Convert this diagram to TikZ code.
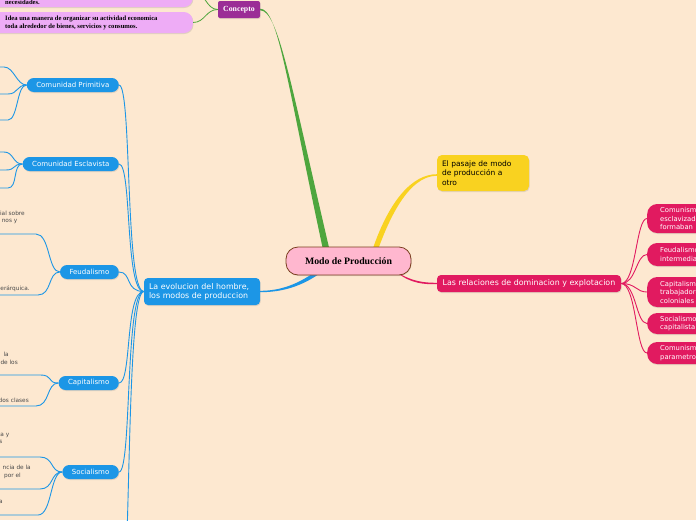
\documentclass[tikz,border=0pt]{standalone}
\usepackage{fontspec}
\newfontfamily\dv{DejaVu Sans}
\newfontfamily\tms{Liberation Serif}
\usetikzlibrary{shadows,calc}
\pgfdeclarelayer{bgl}
\pgfdeclarelayer{lines}
\pgfsetlayers{bgl,lines,main}
\definecolor{cbg}{RGB}{253,232,208}
\definecolor{cblue}{RGB}{28,150,230}
\definecolor{cred}{RGB}{225,26,96}
\definecolor{cyel}{RGB}{249,210,32}
\definecolor{cgreen}{RGB}{78,166,62}
\definecolor{cpurp}{RGB}{155,45,150}
\definecolor{cviol}{RGB}{238,172,246}
\definecolor{cpink}{RGB}{255,183,207}
\definecolor{cbrown}{RGB}{122,62,30}
\definecolor{cgray}{RGB}{75,75,75}
\tikzset{
 shad/.style={drop shadow={opacity=0.22,shadow xshift=0.6pt,shadow yshift=-1pt}},
 subnode/.style={shad,fill=cblue,text=white,rounded corners=7pt,minimum height=14pt,inner ysep=0pt,inner xsep=9.5pt,anchor=east,font=\dv\fontsize{7}{8}\selectfont},
 rnode/.style={shad,fill=cred,text=white,rounded corners=10pt,anchor=west,text width=100pt,inner xsep=13pt,inner ysep=0pt,align=left,font=\dv\fontsize{6.8}{8.5}\selectfont},
 violbox/.style={shad,fill=cviol,rounded corners=9pt,anchor=east,minimum width=240pt,inner sep=0pt},
 violtext/.style={anchor=west,inner sep=0pt,align=left,font=\tms\bfseries\fontsize{6.6}{8}\selectfont},
 lefttext/.style={anchor=east,inner sep=0pt,text=cgray,font=\dv\fontsize{5.8}{6.5}\selectfont},
 bl/.style={draw=cblue,line width=0.9pt},
 rl/.style={draw=cred,line width=0.9pt},
 gl/.style={draw=cgreen,line width=0.8pt},
}
\begin{document}
\begin{tikzpicture}[x=1pt,y=-1pt]
\useasboundingbox (0,0) rectangle (696,520);
\begin{pgfonlayer}{bgl}
\fill[cbg] (0,0) rectangle (696,520);
\end{pgfonlayer}

% central
\node[shad,fill=cpink,draw=cbrown,line width=0.8pt,rounded corners=12pt,minimum width=125pt,minimum height=28pt,inner sep=0pt,font=\tms\bfseries\fontsize{9.8}{11}\selectfont] (cen) at (348.5,261) {Modo de Producción};

% concepto branch
\node[shad,fill=cpurp,text=white,rounded corners=2pt,minimum width=42pt,minimum height=17pt,inner sep=0pt,font=\tms\bfseries\fontsize{7.8}{9}\selectfont] (con) at (239,9.5) {Concepto};
\node[violbox,minimum height=32pt] (v1) at (193,-9) {};
\node[violtext] (v1t) at (5,2) {necesidades.};
\node[violbox,minimum height=21pt] (v2) at (193,22.5) {};
\node[violtext] (v2t) at (5,22.5) {Idea una manera de organizar su actividad economica\\toda alrededor de bienes, servicios y consumos.};

% yellow
\node[shad,fill=cyel,rounded corners=5pt,minimum height=36pt,text width=82pt,inner xsep=5pt,inner ysep=0pt,align=left,font=\dv\fontsize{7.5}{9.8}\selectfont] (yel) at (483,173) {El pasaje de modo\\de producción a\\otro};

% red
\node[shad,fill=cred,text=white,rounded corners=4pt,minimum width=184pt,minimum height=17pt,inner sep=0pt,font=\dv\fontsize{7.9}{9.5}\selectfont] (rel) at (529,283.5) {Las relaciones de dominacion y explotacion};
\node[rnode,minimum height=29pt] (r1) at (647,218.5) {Comunismo\\esclavizados\\formaban};
\node[rnode,minimum height=23pt] (r2) at (647,254.5) {Feudalismo\\intermedia};
\node[rnode,minimum height=30pt] (r3) at (647,292) {Capitalismo\\trabajadores\\coloniales};
\node[rnode,minimum height=21pt] (r4) at (647,323.5) {Socialismo\\capitalista};
\node[rnode,minimum height=22pt] (r5) at (647,353) {Comunismo\\parametro};

% blue
\node[shad,fill=cblue,text=white,rounded corners=4pt,minimum height=27pt,text width=106pt,inner xsep=5pt,inner ysep=0pt,align=left,font=\dv\fontsize{7.9}{9.3}\selectfont] (evol) at (202,291.5) {La evolucion del hombre,\\los modos de produccion};
\node[subnode] (prim) at (119,85) {Comunidad Primitiva};
\node[subnode] (escl) at (119,164) {Comunidad Esclavista};
\node[subnode] (feud) at (119,272) {Feudalismo};
\node[subnode] (cap) at (119,383) {Capitalismo};
\node[subnode] (soc) at (119,472) {Socialismo};
\coordinate (nxt) at (119,620);

% left fragments
\node[lefttext] (t1) at (25,213) {ial sobre};
\node[lefttext] (t2) at (17.5,221) {nos y};
\node[lefttext] (t3) at (30,289) {erárquica.};
\node[lefttext] (t4) at (9,354) {la};
\node[lefttext] (t5) at (18,362) {de los};
\node[lefttext] (t6) at (29,400) {dos clases};
\node[lefttext] (t7) at (9.5,435) {ca y};
\node[lefttext] (t8) at (2.5,442) {s};
\node[lefttext] (t9) at (31,467) {ncia de la};
\node[lefttext] (t10) at (21,476) {por el};
\node[lefttext] (t11) at (3,502) {a};

\coordinate (p1) at (4,67);
\coordinate (p2) at (8,94);
\coordinate (p3) at (8,120);
\coordinate (e1) at (4,152);
\coordinate (e2) at (6,170);
\coordinate (e3) at (8,188);
\coordinate (f1) at (36,234);
\coordinate (f2) at (38,295);
\coordinate (c1) at (40,375);
\coordinate (c2) at (36,406);
\coordinate (s1) at (40,457);
\coordinate (s2) at (40,489);
\coordinate (s3) at (38,515);

\begin{pgfonlayer}{lines}
% thick tapered branches
\fill[cgreen] ($(con.east)+(0,-0.8)$) .. controls +(18,0) and +(-36,-167) .. ($(cen.north)+(-25.5,3)$) -- ($(cen.north)+(-19,3)$) .. controls +(-39,-167) and +(18,0) .. ($(con.east)+(0,0.8)$) -- cycle;
\fill[cyel] ($(cen.north)+(24,3)$) .. controls +(17,-50) and +(-24,0) .. ($(yel.west)+(0,1.2)$) -- ($(yel.west)+(0,2.8)$) .. controls +(-21,0) and +(18,-50) .. ($(cen.north)+(29.5,3)$) -- cycle;
\fill[cblue] ($(cen.south)+(-30,-6)$) .. controls +(-20,15) and +(20,0) .. ($(evol.east)+(0,-0.7)$) -- ($(evol.east)+(0,0.7)$) .. controls +(22,0) and +(-20,15) .. ($(cen.south)+(-26,-4)$) -- cycle;
\fill[cred] ($(cen.south)+(44,-6)$) .. controls +(18,12) and +(-14,0) .. ($(rel.west)+(0,-0.7)$) -- ($(rel.west)+(0,0.7)$) .. controls +(-12,0) and +(16,12) .. ($(cen.south)+(48,-3)$) -- cycle;

% green thin
\draw[gl] (con.west) .. controls +(-12,0) and +(12,0) .. (v1.east);
\draw[gl] (con.west) .. controls +(-12,0) and +(12,0) .. (v2.east);

% red thin
\foreach \n in {r1,r2,r3,r4,r5}
  \draw[rl] (rel.east) .. controls +(15,0) and +(-11,0) .. (\n.west);

% blue thin
\foreach \n in {prim,escl,feud,cap,soc}
  \draw[bl] (evol.west) .. controls +(-19,0) and +(13,0) .. (\n.east);
\draw[bl] (evol.west) .. controls +(-19,0) and +(13,0) .. (nxt);

\foreach \c in {p1,p2,p3}
  \draw[bl] (prim.west) .. controls +(-10,0) and +(10,0) .. (\c) -- ++(-20,0);
\foreach \c in {e1,e2,e3}
  \draw[bl] (escl.west) .. controls +(-10,0) and +(10,0) .. (\c) -- ++(-20,0);
\foreach \c in {f1,f2}
  \draw[bl] (feud.west) .. controls +(-12,0) and +(14,0) .. (\c) -- ++(-50,0);
\foreach \c in {c1,c2}
  \draw[bl] (cap.west) .. controls +(-12,0) and +(14,0) .. (\c) -- ++(-50,0);
\foreach \c in {s1,s2,s3}
  \draw[bl] (soc.west) .. controls +(-12,0) and +(14,0) .. (\c) -- ++(-50,0);
\end{pgfonlayer}
\end{tikzpicture}
\end{document}
